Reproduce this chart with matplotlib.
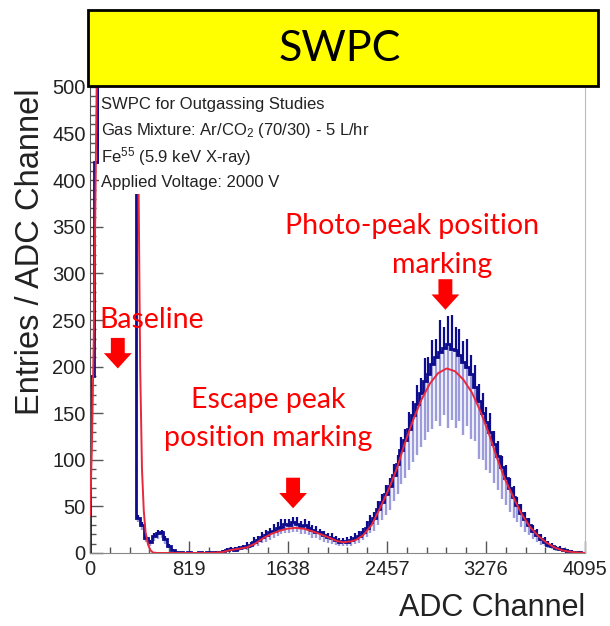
import numpy as np
import matplotlib
matplotlib.use("Agg")
import matplotlib.pyplot as plt
from matplotlib.patches import Rectangle

plt.rcParams['font.family'] = ['Liberation Sans', 'DejaVu Sans']
plt.rcParams['mathtext.default'] = 'regular'

# histogram, 32-channel bins (900 = off scale, pedestal)
bin_edges = np.arange(0, 4097, 32)
counts = [
    190, 420, 900, 900, 900, 900, 900, 900, 900, 900, 900, 900, 38, 30, 16, 12,
    18, 21, 22, 15, 8, 3, 1, 1, 0.5, 1, 0.5, 0.5, 1, 0.5, 1, 1,
    1, 1.5, 2, 3, 4, 3.5, 5, 6, 7.5, 9, 12, 14, 17, 19, 22, 24,
    27, 28, 31, 30, 33, 31, 29, 30, 27, 25, 23, 22, 19, 17, 16, 14,
    12, 13, 12, 14, 16, 18, 22, 27, 33, 38, 47, 55, 63, 72, 84, 95,
    110, 121, 133, 148, 160, 172, 185, 192, 203, 210, 216, 220, 224, 219, 218, 212,
    205, 200, 192, 178, 163, 150, 141, 130, 117, 104, 92, 80, 70, 60, 51, 43,
    36, 30, 24, 19, 15, 12, 9, 7, 5, 4, 3, 2, 1.5, 1, 0.7, 0.5,
]
spike_up = [
    0, 0, 0, 0, 0, 0, 0, 0, 0, 0, 0, 0, 3, 3, 2, 2,
    3, 4, 3, 3, 2, 1, 0.5, 0.5, 0.5, 0.5, 0.5, 0.5, 0.5, 0.5, 0.5, 0.5,
    1, 1, 1.5, 2, 2, 3, 2.5, 3, 4, 3, 5, 4, 5, 6, 5, 7,
    6, 8, 5, 7, 6, 8, 5, 6, 7, 5, 6, 4, 5, 4, 5, 4,
    4, 3, 5, 4, 5, 6, 5, 7, 8, 6, 9, 8, 10, 9, 12, 10,
    14, 12, 18, 15, 20, 16, 24, 18, 26, 20, 34, 22, 30, 36, 24, 28,
    22, 30, 20, 24, 18, 22, 16, 20, 14, 16, 12, 14, 10, 12, 9, 10,
    8, 8, 6, 7, 5, 5, 4, 4, 3, 3, 2, 2, 1.5, 1, 1, 1,
]
dip_down = [
    0, 0, 0, 0, 0, 0, 0, 0, 0, 0, 0, 0, 5, 5, 4, 4,
    5, 6, 6, 5, 3, 1, 0.5, 0.5, 0.5, 0.5, 0.5, 0.5, 0.5, 0.5, 0.5, 0.5,
    1, 1, 1.5, 2, 2, 2, 3, 3, 4, 4, 5, 6, 6, 7, 8, 8,
    9, 8, 10, 9, 10, 9, 9, 10, 8, 9, 7, 8, 7, 6, 6, 5,
    5, 5, 5, 6, 6, 7, 8, 10, 12, 14, 17, 20, 22, 26, 28, 32,
    36, 40, 44, 50, 55, 58, 64, 62, 70, 68, 80, 72, 90, 76, 84, 70,
    78, 64, 70, 58, 62, 50, 52, 44, 42, 36, 34, 28, 26, 22, 18, 15,
    13, 11, 9, 7, 6, 5, 4, 3, 2.5, 2, 1.5, 1, 1, 0.5, 0.5, 0.5,
]

# fit curve
fit_ch = [0, 15, 30, 45, 60, 75, 380, 400, 415, 430, 445, 460, 480, 500, 520, 560,
          1000, 1100, 1158, 1230, 1296, 1365, 1434, 1500, 1572, 1630, 1696, 1770,
          1847, 1920, 1986, 2040, 2093, 2160, 2200, 2259, 2330, 2399, 2470, 2537,
          2600, 2674, 2740, 2813, 2880, 2951, 3020, 3089, 3160, 3227, 3300, 3364,
          3430, 3502, 3570, 3640, 3710, 3778, 3850, 3916, 3990, 4054, 4095]
fit_val = [40, 110, 220, 380, 560, 800, 800, 420, 200, 90, 45, 22, 9, 3, 0.5, 0,
           0, 1, 3, 4.5, 6, 10, 16, 20.5, 24, 26, 27, 26,
           23, 19.5, 16, 13, 11.5, 12.5, 14, 19, 30, 48, 68, 90,
           116, 143, 164, 182, 193, 198, 195, 186, 172, 153, 128, 103,
           80, 60, 42, 28, 18, 11, 5.5, 2.5, 1, 0.3, 0.1]

info_lines = ["SWPC for Outgassing Studies",
              "Gas Mixture: Ar/CO$_2$ (70/30) - 5 L/hr",
              "Fe$^{55}$ (5.9 keV X-ray)",
              "Applied Voltage: 2000 V"]
info_y = [481, 453, 425, 398]

arrow_ch = [230, 1680, 2940]
arrow_tip = [198, 48, 261]

navy = '#0c0c8c'
light = '#9c9cdc'
fitred = '#e8283c'

W, H = 610, 626
fig = plt.figure(figsize=(W / 100, H / 100), dpi=100)
ax = fig.add_axes([90 / W, 73 / H, 495 / W, 466 / H])

counts = np.array(counts)
centers = 0.5 * (bin_edges[:-1] + bin_edges[1:])
ax.vlines(centers, counts - np.array(dip_down), counts, color=light, lw=1.7, zorder=1)
ax.vlines(centers, counts, counts + np.array(spike_up), color=navy, lw=1.6, zorder=2)
ax.stairs(counts, bin_edges, color=navy, lw=2.0, zorder=2)
ax.plot(fit_ch, fit_val, color=fitred, lw=1.4, zorder=3)

ax.set_xlim(0, 4095)
ax.set_ylim(0, 500)
ax.set_xticks([0, 819, 1638, 2457, 3276, 4095])
ax.set_xticks(np.arange(0, 4096, 163.8), minor=True)
ax.set_yticks(np.arange(0, 501, 50))
ax.set_yticks(np.arange(0, 501, 10), minor=True)
ax.tick_params(which='both', direction='in', color='#555555', width=1,
               labelsize=14.5, labelcolor='#222222')
ax.tick_params(which='major', length=9)
ax.tick_params(which='minor', length=4.5)
ax.tick_params(axis='x', pad=5)
ax.tick_params(axis='y', pad=3)
for side, c in [('left', '#555555'), ('bottom', '#888888'), ('right', '#bbbbbb')]:
    ax.spines[side].set_color(c)
ax.spines['top'].set_visible(False)

# white info box (no border) like the ROOT pave
ax.add_patch(Rectangle((75, 385), 2300, 120, fc='white', ec='none', zorder=4))
for txt, yv in zip(info_lines, info_y):
    ax.text(90, yv, txt, fontsize=12, color='#222222', va='center', zorder=5)

for xc, yt in zip(arrow_ch, arrow_tip):
    ax.annotate('', xy=(xc, yt), xytext=(0, 22), textcoords='offset points',
                arrowprops=dict(arrowstyle='simple,head_width=1.0,head_length=0.55,tail_width=0.5',
                                fc='red', ec='none', shrinkA=0, shrinkB=0,
                                mutation_scale=20), zorder=6)


def fpx(x, y):
    return x / W, 1 - y / H


red_font = dict(family=['Lato', 'DejaVu Sans'], color='red', fontsize=20.5)
fig.text(*fpx(99, 320), "Baseline", ha='left', va='center', **red_font)
fig.text(*fpx(268, 400), "Escape peak", ha='center', va='center', **red_font)
fig.text(*fpx(268, 438), "position marking", ha='center', va='center', **red_font)
fig.text(*fpx(412, 226), "Photo-peak position", ha='center', va='center', **red_font)
fig.text(*fpx(442, 265), "marking", ha='center', va='center', **red_font)

fig.text(*fpx(31, 252), "Entries / ADC Channel", rotation=90, ha='center',
         va='center', fontsize=23.5, color='#222222')
fig.text(*fpx(585, 608), "ADC Channel", ha='right', va='center', fontsize=22,
         color='#222222')

fig.add_artist(Rectangle(fpx(88, 86), 510 / W, 76 / H, transform=fig.transFigure,
                         fc='#ffff00', ec='black', lw=2, zorder=10))
fig.text(*fpx(340, 49), "SWPC", ha='center', va='center', fontsize=31,
         family=['Lato', 'DejaVu Sans'], color='black', zorder=11)

fig.savefig("out.png", dpi=100)
